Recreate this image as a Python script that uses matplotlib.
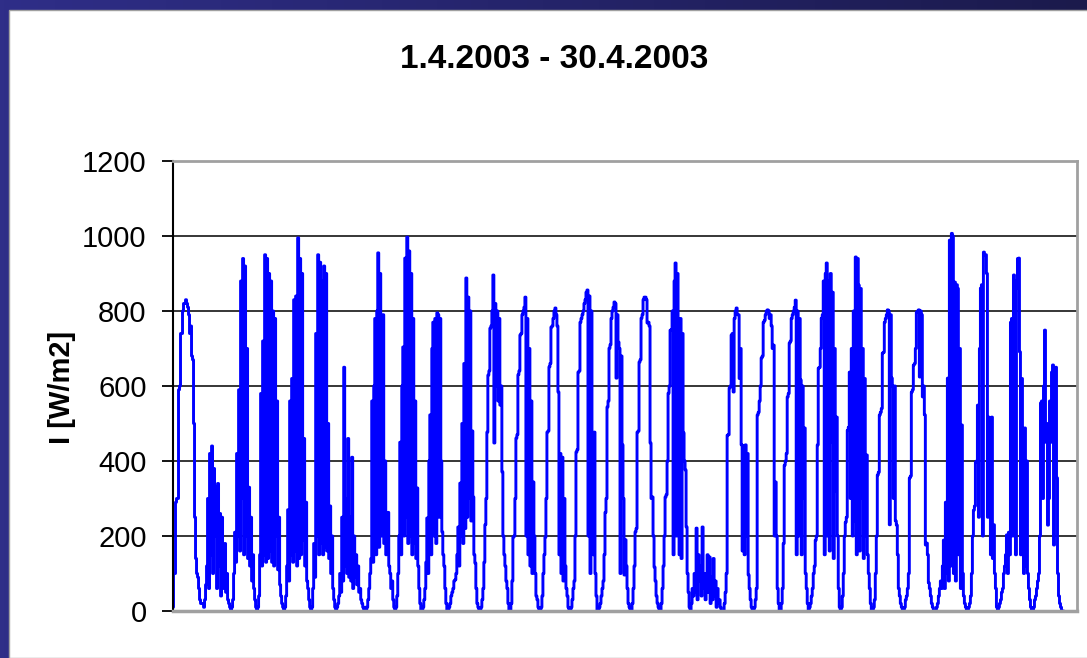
import numpy as np
import matplotlib.pyplot as plt
from matplotlib.patches import Rectangle
from matplotlib.colors import LinearSegmentedColormap

plt.rcParams['font.family'] = ['Liberation Sans', 'DejaVu Sans']

# irradiance samples per day (daylight only), W/m2
day_01 = [10, 100, 100, 290, 300, 300, 590, 600, 740, 740, 800, 820, 820, 830, 820,
          810, 790, 740, 760, 680, 670, 500, 250, 140, 100, 90, 60, 30, 20, 20]
day_02 = [20, 10, 30, 70, 120, 300, 60, 420, 150, 440, 100, 380, 200, 330, 60,
          340, 120, 260, 40, 250, 110, 60, 180, 50, 100, 30, 20, 10, 0]
day_03 = [10, 30, 100, 210, 130, 420, 200, 590, 160, 880, 300, 940, 150, 920, 200,
          700, 140, 330, 120, 250, 80, 150, 60, 30, 10, 0]
day_04 = [10, 40, 150, 580, 120, 720, 150, 950, 130, 940, 140, 900, 160, 880, 130,
          800, 120, 780, 200, 560, 110, 250, 70, 40, 20, 10, 0]
day_05 = [10, 40, 120, 270, 80, 560, 150, 620, 130, 830, 160, 840, 120, 995, 140,
          940, 150, 900, 190, 460, 120, 290, 80, 60, 30, 10, 0]
day_06 = [10, 60, 180, 90, 740, 200, 950, 150, 930, 180, 880, 150, 920, 170, 900,
          160, 500, 140, 280, 100, 200, 60, 30, 10, 0]
day_07 = [10, 20, 40, 100, 50, 250, 80, 650, 120, 300, 100, 460, 90, 250, 80,
          410, 60, 200, 90, 150, 70, 120, 50, 60, 30, 20, 10, 0, 10]
day_08 = [0, 10, 30, 60, 100, 140, 560, 130, 600, 780, 150, 800, 955, 170, 900,
          200, 780, 790, 180, 400, 150, 260, 263, 120, 100, 60, 80, 30, 10]
day_09 = [0, 10, 40, 100, 200, 450, 150, 600, 704, 200, 941, 250, 997, 180, 960,
          200, 900, 150, 780, 180, 560, 140, 328, 120, 60, 20, 0]
day_10 = [0, 10, 30, 60, 130, 248, 100, 400, 523, 150, 700, 770, 200, 780, 180,
          795, 790, 250, 780, 400, 211, 150, 120, 60, 20, 0]
day_11 = [0, 10, 20, 40, 50, 60, 80, 83, 100, 150, 224, 120, 341, 200, 500, 180,
          660, 220, 888, 250, 837, 300, 800, 240, 480, 304, 150, 128, 60, 20, 10, 0]
day_12 = [0, 10, 30, 60, 130, 230, 300, 477, 629, 640, 754, 760, 800, 896, 448,
          820, 600, 800, 560, 780, 549, 600, 371, 200, 150, 120, 80, 60, 20, 0]
day_13 = [0, 20, 80, 197, 200, 300, 461, 470, 630, 640, 736, 740, 790, 800, 810,
          837, 200, 780, 150, 700, 120, 560, 100, 344, 200, 100, 40, 30, 10, 0]
day_14 = [0, 10, 40, 100, 150, 197, 300, 477, 480, 651, 660, 757, 760, 780, 800,
          808, 790, 760, 584, 150, 420, 100, 410, 80, 300, 120, 60, 40, 10, 0]
day_15 = [0, 10, 30, 60, 80, 200, 424, 430, 637, 640, 770, 780, 790, 800, 820,
          830, 850, 856, 200, 840, 100, 800, 300, 150, 477, 100, 40, 0]
day_16 = [0, 10, 20, 40, 60, 80, 150, 263, 300, 544, 560, 701, 710, 780, 800, 810,
          824, 820, 621, 790, 717, 700, 100, 680, 443, 300, 96, 190, 120, 60, 20, 10, 0]
day_17 = [0, 20, 60, 120, 211, 220, 477, 480, 664, 670, 781, 790, 830, 837, 837,
          830, 768, 770, 760, 448, 300, 304, 200, 117, 80, 40, 21, 10, 0]
day_18 = [0, 20, 60, 120, 200, 304, 310, 400, 581, 600, 749, 750, 800, 150, 880,
          928, 200, 900, 715, 150, 780, 140, 740, 475, 400, 376, 224, 100, 50, 10]
day_19 = [0, 20, 60, 40, 100, 50, 221, 30, 150, 80, 120, 40, 224, 60, 100, 30, 70,
          150, 50, 144, 20, 90, 30, 140, 40, 80, 10, 60, 20, 30, 10, 0, 0]
day_20 = [0, 20, 50, 100, 469, 470, 595, 600, 736, 740, 584, 780, 800, 808, 790,
          790, 620, 700, 443, 160, 440, 150, 443, 200, 420, 96, 60, 30, 10, 0]
day_21 = [0, 10, 30, 60, 523, 530, 560, 600, 675, 680, 770, 775, 790, 800, 803,
          800, 780, 790, 760, 700, 709, 200, 344, 200, 60, 20, 0]
day_22 = [0, 20, 60, 180, 389, 400, 420, 571, 580, 715, 720, 780, 790, 800, 810,
          829, 150, 800, 200, 780, 616, 150, 600, 300, 488, 100, 60, 20]
day_23 = [0, 10, 20, 40, 60, 100, 120, 189, 200, 443, 648, 650, 700, 781, 790, 880,
          150, 900, 928, 200, 880, 160, 900, 450, 850, 140, 700, 320, 517, 200, 60, 10]
day_24 = [0, 10, 40, 100, 200, 237, 250, 482, 490, 637, 300, 700, 200, 800, 240, 944,
          150, 940, 869, 160, 860, 300, 700, 140, 620, 200, 416, 150, 100, 60, 20, 0]
day_25 = [0, 10, 30, 100, 200, 363, 370, 523, 530, 540, 688, 690, 770, 780, 790,
          803, 800, 230, 790, 621, 600, 300, 600, 240, 229, 150, 60, 40, 20, 10, 0]
day_26 = [0, 10, 30, 40, 60, 100, 355, 360, 584, 590, 656, 660, 700, 797, 800, 803,
          624, 800, 790, 571, 600, 523, 176, 181, 150, 75, 60, 40, 20, 10, 0, 0]
day_27 = [0, 10, 20, 40, 60, 80, 60, 120, 189, 60, 290, 100, 621, 80, 989, 120,
          1007, 1000, 100, 877, 80, 870, 860, 150, 700, 60, 496, 100, 40, 20, 10, 0]
day_28 = [0, 10, 20, 40, 100, 200, 269, 280, 397, 400, 549, 250, 700, 861, 870,
          200, 957, 950, 950, 900, 250, 517, 430, 150, 517, 140, 230, 100, 60, 10]
day_29 = [0, 10, 20, 30, 50, 60, 100, 120, 150, 203, 100, 210, 150, 770, 780, 200,
          896, 880, 150, 860, 940, 941, 691, 150, 620, 230, 100, 488, 120, 400, 100,
          60, 30, 10, 0]
day_30 = [0, 10, 30, 40, 60, 80, 100, 200, 555, 560, 300, 600, 749, 450, 500, 229,
          300, 560, 450, 637, 656, 176, 400, 650, 355, 100, 40, 20, 10, 0, 0]

days = [day_01, day_02, day_03, day_04, day_05, day_06, day_07, day_08, day_09, day_10,
        day_11, day_12, day_13, day_14, day_15, day_16, day_17, day_18, day_19, day_20,
        day_21, day_22, day_23, day_24, day_25, day_26, day_27, day_28, day_29, day_30]

y_ticks = [0, 200, 400, 600, 800, 1000, 1200]
title = '1.4.2003 - 30.4.2003'
y_label = 'I [W/m2]'

irradiance = np.concatenate([np.array(d, dtype=float) for d in days])
samples = np.arange(len(irradiance))

W, H = 1087, 658
fig = plt.figure(figsize=(W / 100, H / 100), dpi=100)

# dark blue slide frame with white panel
bg = fig.add_axes([0, 0, 1, 1])
bg.axis('off')
frame_cmap = LinearSegmentedColormap.from_list('frame', ['#2f2e88', '#1b1a4c'])
bg.imshow(np.linspace(0, 1, 256).reshape(1, -1), aspect='auto', cmap=frame_cmap,
          extent=[0, 1, 0, 1])
bg.set_xlim(0, 1)
bg.set_ylim(0, 1)
bg.add_patch(Rectangle((9 / W, 0), 1, (H - 10) / H, facecolor='white',
                       edgecolor='#a0a0a0', lw=1))

# plot area
ax = fig.add_axes([173 / W, (H - 611) / H, 904 / W, 450 / H])
ax.set_facecolor('white')
for level in y_ticks[1:-1]:
    ax.axhline(level, color='black', lw=1.1, zorder=1)
ax.plot(samples, irradiance, color='#0000ff', lw=2.1, drawstyle='steps-mid', zorder=2)

ax.set_ylim(0, 1200)
ax.set_xlim(0, (len(irradiance) - 1) * 904 / 890)
ax.set_yticks(y_ticks)
ax.tick_params(axis='y', labelsize=21, length=8, width=1.3, pad=11, colors='black')
ax.tick_params(axis='x', bottom=False, labelbottom=False)

ax.spines['left'].set_color('black')
ax.spines['left'].set_linewidth(1.5)
for side in ['top', 'right', 'bottom']:
    ax.spines[side].set_color('#a0a0a0')
    ax.spines[side].set_linewidth(2)
ax.spines['bottom'].set_linewidth(2.5)

fig.text(554 / W, 1 - 60 / H, title, ha='center', va='center',
         fontsize=24, fontweight='bold')
fig.text(62 / W, 1 - 387 / H, y_label, ha='center', va='center', rotation=90,
         fontsize=21, fontweight='bold')

fig.savefig('out.png', dpi=100)
